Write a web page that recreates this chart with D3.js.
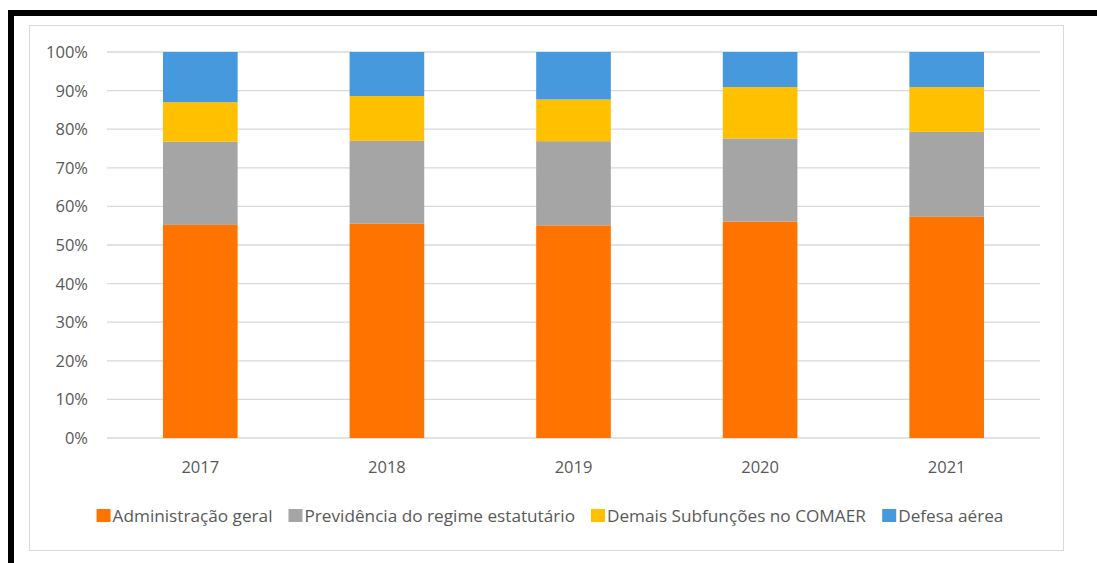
<!doctype html>
<html>
<head>
<meta charset="utf-8">
<title></title>
<style>
body{ margin:0; background:#fff; }
svg{ display:block; }
text{ font-family:"Open Sans", sans-serif; fill:#595959; }
</style>
</head>
<body>
<svg></svg>
<script src="https://cdn.jsdelivr.net/npm/d3@7"></script>
<script>
   var anos = ['2017','2018','2019','2020','2021'];
   var series = ['Administração geral','Previdência do regime estatutário','Demais Subfunções no COMAER','Defesa aérea'];
   var administracao = [55.2, 55.5, 55.1, 56.1, 57.3];
   var previdencia   = [21.6, 21.5, 21.8, 21.5, 22.0];
   var demais        = [10.2, 11.6, 10.8, 13.3, 11.6];
   var defesa        = [13.0, 11.4, 12.3,  9.1,  9.1];
   var yTicks = [0,10,20,30,40,50,60,70,80,90,100];
   var cores = ['#ff7400','#a5a5a5','#ffc000','#4599dc'];

   var width = 1097, height = 563;
   var svg = d3.select('svg').attr('width',width).attr('height',height);

   // moldura preta (recorte) e borda do grafico
   svg.append('rect').attr('x',11).attr('y',13).attr('width',width+20).attr('height',height+20)
      .attr('fill','none').attr('stroke','#000').attr('stroke-width',6);
   svg.append('rect').attr('x',29.5).attr('y',25.5).attr('width',1034).attr('height',525)
      .attr('fill','#fff').attr('stroke','#d9d9d9').attr('stroke-width',1);

   var tabela = anos.map(function(a,i){
       return {ano:a, s0:administracao[i], s1:previdencia[i], s2:demais[i], s3:defesa[i]};
   });
   var pilha = d3.stack().keys(['s0','s1','s2','s3'])(tabela);

   var x = d3.scaleBand().domain(anos).range([107,1040]).paddingInner(0.6).paddingOuter(0.3);
   var y = d3.scaleLinear().domain([0,100]).range([438,52]);

   var g = svg.append('g');

   g.selectAll('line.grid').data(yTicks).enter().append('line')
      .attr('x1',107).attr('x2',1040)
      .attr('y1',function(d){ return y(d); }).attr('y2',function(d){ return y(d); })
      .attr('stroke','#d9d9d9').attr('stroke-width',1.3);

   g.selectAll('text.ytick').data(yTicks).enter().append('text')
      .attr('x',88).attr('y',function(d){ return y(d); })
      .attr('dy','0.36em').attr('text-anchor','end')
      .style('font-size','16.5px')
      .text(function(d){ return d + '%'; });

   g.selectAll('g.serie').data(pilha).enter().append('g')
      .attr('fill',function(d,i){ return cores[i]; })
      .selectAll('rect').data(function(d){ return d; }).enter().append('rect')
      .attr('x',function(d){ return x(d.data.ano); })
      .attr('width',x.bandwidth())
      .attr('y',function(d){ return y(d[1]); })
      .attr('height',function(d){ return y(d[0]) - y(d[1]); });

   g.selectAll('text.ano').data(anos).enter().append('text')
      .attr('x',function(d){ return x(d) + x.bandwidth()/2; })
      .attr('y',467).attr('dy','0.36em').attr('text-anchor','middle')
      .style('font-size','16.5px')
      .text(function(d){ return d; });

   // legenda
   var leg = svg.append('g');
   var itens = leg.selectAll('g').data(series).enter().append('g');
   itens.append('rect').attr('width',14).attr('height',13).attr('y',-7)
      .attr('fill',function(d,i){ return cores[i]; });
   itens.append('text').attr('x',16).attr('dy','0.36em')
      .style('font-size','17.2px')
      .text(function(d){ return d; });
   var pos = 0, larguras = [];
   itens.each(function(){ larguras.push(this.getBBox().width); });
   var total = d3.sum(larguras) + 16*(larguras.length-1);
   pos = 550 - total/2;
   itens.attr('transform',function(d,i){
       var t = 'translate(' + pos + ',516)';
       pos += larguras[i] + 16;
       return t;
   });
</script>
</body>
</html>
